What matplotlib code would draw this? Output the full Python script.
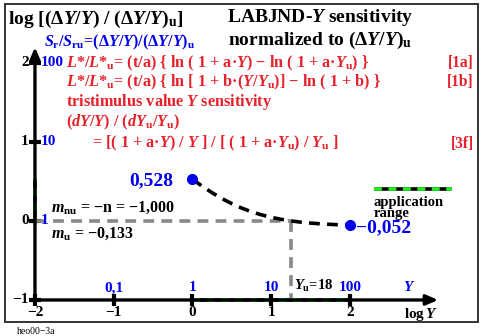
import matplotlib.pyplot as plt
from matplotlib.patches import Rectangle

plt.rcParams['font.family'] = ['Liberation Serif', 'DejaVu Serif']
plt.rcParams['font.weight'] = 'bold'
plt.rcParams['mathtext.fontset'] = 'custom'
plt.rcParams['mathtext.rm'] = 'Liberation Serif:bold'
plt.rcParams['mathtext.it'] = 'Liberation Serif:italic:bold'
plt.rcParams['mathtext.bf'] = 'Liberation Serif:bold'

# sensitivity curve, log Y against log of normalized ratio
log_y = [0.0, 0.125, 0.25, 0.375, 0.5, 0.625, 0.75, 0.875, 1.0,
         1.125, 1.25, 1.375, 1.5, 1.625, 1.75, 1.875, 2.0]
log_ratio = [0.528, 0.438, 0.357, 0.283, 0.219, 0.163, 0.116, 0.078, 0.046,
             0.021, 0.001, -0.015, -0.027, -0.036, -0.043, -0.049, -0.052]
log_yu = 1.255  # Yu = 18

x_ticks = [-2, -1, 0, 1, 2]
x_tick_labels = ['\u22122', '\u22121', '0', '1', '2']
x_blue_pos = [-1, 0, 1, 2]
x_blue_labels = ['0,1', '1', '10', '100']
y_ticks = [-1, 0, 1, 2]
y_tick_labels = ['\u22121', '0', '1', '2']
y_blue_pos = [0, 1, 2]
y_blue_labels = ['1', '10', '100']
app_range_x = [0, 2]
app_range_y = [-0.052, 0.528]

RED = '#e8202a'
BLUE = '#0000ee'
GREEN = '#22ee22'

fig = plt.figure(figsize=(4.89, 3.36), dpi=100)
ax = fig.add_axes([0, 0, 1, 1])
ax.set_xlim(-2.444, 3.765)
ax.set_ylim(-1.456, 2.797)
ax.axis('off')

fig.patches.append(Rectangle((5 / 489, 14 / 336), 473 / 489, 318 / 336,
                             transform=fig.transFigure, fill=False,
                             edgecolor='#333333', lw=1.4))

# axes with arrows
ax.annotate('', xy=(3.12, -1), xytext=(-2, -1),
            arrowprops=dict(arrowstyle='-|>,head_length=0.7,head_width=0.3',
                            color='black', lw=2.4, shrinkA=0, shrinkB=0))
ax.annotate('', xy=(-2, 2.2), xytext=(-2, -1),
            arrowprops=dict(arrowstyle='-|>,head_length=0.7,head_width=0.3',
                            color='black', lw=2.4, shrinkA=0, shrinkB=0))

# application range on both axes
ax.plot(app_range_x, [-1, -1], color='black', lw=2.6, solid_capstyle='butt')
ax.plot(app_range_x, [-1, -1], color=GREEN, lw=2.6, dashes=(2.2, 1.8))
ax.plot([-2, -2], app_range_y, color='black', lw=2.6, solid_capstyle='butt')
ax.plot([-2, -2], app_range_y, color=GREEN, lw=2.6, dashes=(2.2, 1.8))

# tick marks
ax.plot(x_ticks, [-1] * len(x_ticks), ls='none', marker='|', ms=8, mew=3,
        color='black')
ax.plot([-2] * len(y_ticks), y_ticks, ls='none', marker='_', ms=8, mew=3,
        color='black')

for xv, lab in zip(x_ticks, x_tick_labels):
    ax.text(xv, -1.08, lab, ha='center', va='top', fontsize=11)
for xv, lab in zip(x_blue_pos, x_blue_labels):
    ax.text(xv, -0.93, lab, ha='center', va='bottom', fontsize=11, color=BLUE)
for yv, lab in zip(y_ticks, y_tick_labels):
    ax.text(-2.08, yv, lab, ha='right', va='center', fontsize=11)
for yv, lab in zip(y_blue_pos, y_blue_labels):
    ax.text(-1.93, yv, lab, ha='left', va='center', fontsize=11, color=BLUE)

ax.text(2.75, -0.93, '$Y$', ha='center', va='bottom', fontsize=11,
        color=BLUE)
ax.text(2.9, -1.08, 'log$\\,Y$', ha='center', va='top', fontsize=11)

# reference level Yu
ax.plot([-2, log_yu], [0, 0], color='#888888', lw=2.6, dashes=(3, 2))
ax.plot([log_yu, log_yu], [0, -1], color='#888888', lw=2.6, dashes=(3, 2))
ax.text(log_yu + 0.03, -0.93, '$Y_{\\rm u}$=18', ha='left', va='bottom',
        fontsize=10.5)

# sensitivity curve and end points
ax.plot(log_y, log_ratio, color='black', lw=2.6, dashes=(3, 2))
ax.plot([log_y[0], log_y[-1]], [log_ratio[0], log_ratio[-1]], ls='none',
        marker='o', ms=7, color=BLUE)
ax.text(log_y[0] - 0.25, log_ratio[0] - 0.02, '0,528', ha='right',
        va='center', fontsize=14, color=BLUE)
ax.text(log_y[-1] + 0.08, log_ratio[-1] - 0.03, '\u22120,052', ha='left',
        va='center', fontsize=14, color=BLUE)

ax.text(-1.8, 0.17, '$m_{\\rm nu}$ = \u2212n = \u22121,000', ha='left',
        va='center', fontsize=11.5)
ax.text(-1.8, -0.16, '$m_{\\rm u}$ = \u22120,133', ha='left', va='center',
        fontsize=11.5)

# application range legend
ax.plot([2.3, 3.3], [0.4, 0.4], color='black', lw=2.6, solid_capstyle='butt')
ax.plot([2.3, 3.3], [0.4, 0.4], color=GREEN, lw=2.6, dashes=(2.2, 1.8))
ax.text(2.3, 0.31, 'application\nrange', ha='left', va='top', fontsize=10.5,
        linespacing=0.8)

# headings
ax.text(-2.34, 2.55, 'log [($\\Delta Y/Y$) / ($\\Delta Y/Y$)$_{\\rm u}$]',
        ha='left', va='center', fontsize=14)
ax.text(1.62, 2.57, 'LABJND-$Y$ sensitivity', ha='center', va='center',
        fontsize=14)
ax.text(1.62, 2.29, 'normalized to ($\\Delta Y/Y$)$_{\\rm u}$', ha='center',
        va='center', fontsize=14)
ax.text(-1.89, 2.255,
        '$S_{\\rm r}$/$S_{\\rm ru}$=($\\Delta Y/Y$)/($\\Delta Y/Y$)$_{\\rm u}$',
        ha='left', va='center', fontsize=11.6, color=BLUE)

red_lines = [
    (-1.6, 2.0, '$L$*/$L$*$_{\\rm u}$= (t/a) { ln ( 1 + a\u00b7$Y$) \u2212 ln ( 1 + a\u00b7$Y_{\\rm u}$) }'),
    (-1.6, 1.76, '$L$*/$L$*$_{\\rm u}$= (t/a) { ln [ 1 + b\u00b7($Y/Y_{\\rm u}$)] \u2212 ln ( 1 + b) }'),
    (-1.6, 1.5, 'tristimulus value $Y$ sensitivity'),
    (-1.6, 1.25, '($dY/Y$) / ($dY_{\\rm u}/Y_{\\rm u}$)'),
    (-1.27, 0.98, '= [( 1 + a\u00b7$Y$) / $Y$ ] / [ ( 1 + a\u00b7$Y_{\\rm u}$) / $Y_{\\rm u}$ ]'),
]
for xv, yv, s in red_lines:
    ax.text(xv, yv, s, ha='left', va='center', fontsize=11.7, color=RED)
for yv, tag in [(2.0, '[1a]'), (1.76, '[1b]'), (0.98, '[3f]')]:
    ax.text(3.57, yv, tag, ha='right', va='center', fontsize=11.2, color=RED)

fig.text(17 / 489, 1 - 331 / 336, 'heo00\u22123a', ha='left', va='center',
         fontsize=7, fontweight='normal')

fig.savefig('out.png', dpi=100)
